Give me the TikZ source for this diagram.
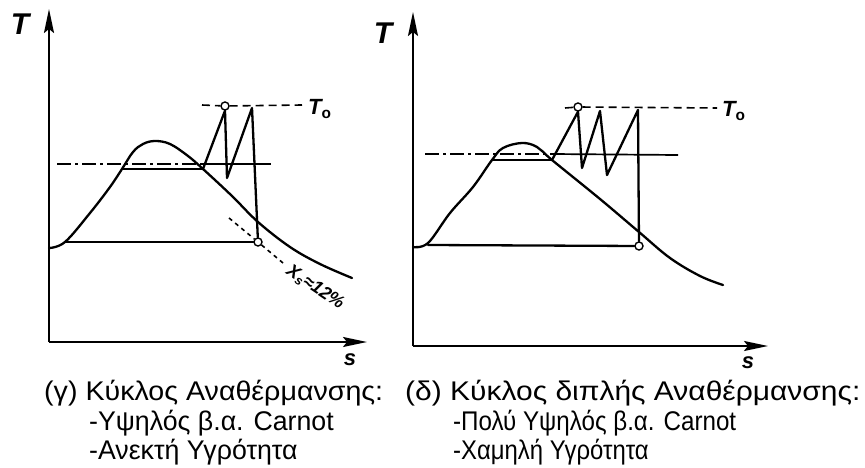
\documentclass[tikz,border=0pt]{standalone}
\usepackage{fontspec}
\setmainfont{Liberation Sans}
\usetikzlibrary{arrows.meta}
\begin{document}
\begin{tikzpicture}[x=1pt,y=-1pt,
  axis/.style={line width=2pt,-{Stealth[length=24pt,width=10pt,inset=4pt]}},
  curve/.style={line width=2.3pt, line join=round, line cap=round},
  thinline/.style={line width=1.7pt},
  dashdot/.style={line width=1.7pt, dash pattern=on 14pt off 4pt on 3pt off 4pt},
  dashT/.style={line width=1.6pt, dash pattern=on 8pt off 5pt},
  dotT/.style={line width=1.6pt, dash pattern=on 4pt off 4pt},
  pt/.style={circle, draw, fill=white, line width=1.4pt, inner sep=0pt, minimum size=8pt},
  captxt/.style={anchor=base west, inner sep=0pt, font=\fontsize{27}{31}\selectfont},
  lbl/.style={font=\fontsize{30}{30}\selectfont\bfseries\itshape, inner sep=0pt},
  slbl/.style={font=\fontsize{22}{22}\selectfont\bfseries\itshape, inner sep=0pt},
  tlbl/.style={font=\fontsize{22}{22}\selectfont\bfseries\itshape, inner sep=0pt},
]
\useasboundingbox (0,0) rectangle (865,468);

% ---------- left diagram ----------
\coordinate (o1) at (49,342);
\coordinate (ytop1) at (49,9);
\coordinate (xend1) at (367,342);
\draw[axis] (o1) -- (ytop1);
\draw[axis] (o1) -- (xend1);
\node[lbl] (T1) at (20,24) {T};
\node[slbl] (s1) at (350,360) {s};

\draw[curve] plot[smooth, tension=0.6] coordinates {(49,248) (65,242) (90,213) (110,187) (122,169) (133,152) (143,144) (155,141) (170,144) (188,156) (203,169) (232,196) (258,222) (290,247) (320,264) (352,278)};

\coordinate (L1) at (122,169);
\coordinate (R1) at (203,169);
\node[pt] (pc1) at (258,242) {};
\node[pt] (pt1) at (225,106) {};
\draw[dashT] (202,105) -- (pt1) -- (302,105) coordinate (t0e1);
\node[tlbl, anchor=west] (T01) at (308,109) {T$_{\mathbf{o}}$};

\draw[curve] (L1) -- (R1);
\draw[curve] (65,242) -- (pc1);
\draw[dashdot] (57,164) -- (203,164);
\draw[thinline] (203,164) -- (271,164);
\draw[curve] (R1) -- (pt1.south) -- (227,178) -- (252,108) -- (pc1);
\draw[dotT] (229,218) -- (pc1);
\draw[dotT] (pc1) -- (283,263) coordinate (xs0);
\node[font=\fontsize{18}{18}\selectfont\bfseries\itshape, inner sep=0pt, anchor=west, rotate=-34] (xs) at (288,269) {X\textsubscript{s}≈12\%};

% ---------- right diagram ----------
\coordinate (o2) at (413,346);
\coordinate (ytop2) at (413,12);
\coordinate (xend2) at (768,346);
\draw[axis] (o2) -- (ytop2);
\draw[axis] (o2) -- (xend2);
\node[lbl] (T2) at (383,33) {T};
\node[slbl] (s2) at (748,363) {s};

\draw[curve] plot[smooth, tension=0.6] coordinates {(413,247) (428,243) (450,213) (473,187) (492,160) (503,148) (522,143) (537,147) (552,160) (600,199) (639,232) (670,258) (700,276) (723,285)};

\coordinate (L2) at (492,160);
\coordinate (R2) at (552,160);
\node[pt] (pc2) at (639,246) {};
\node[pt] (pt2) at (578,107) {};
\draw[dashT] (565,108) -- (pt2) -- (717,108);
\node[tlbl, anchor=west] (T02) at (722,111) {T$_{\mathbf{o}}$};

\draw[curve] (L2) -- (R2);
\draw[curve] (428,245) -- (pc2);
\draw[dashdot] (425,154) -- (552,154);
\draw[thinline] (552,154) -- (678,155);
\draw[curve] (R2) -- (pt2.south) -- (582,168) -- (600,111) -- (607,175) -- (638,110) -- (pc2);

% ---------- captions ----------
\node[captxt, xscale=1.06] (c1a) at (44,400) {(γ) Κύκλος Αναθέρμανσης:};
\node[captxt, xscale=0.99] (c1b) at (89,430) {-Υψηλός β.α. Carnot};
\node[captxt, xscale=0.99] (c1c) at (89,459) {-Ανεκτή Υγρότητα};
\node[captxt, xscale=1.11] (c2a) at (405,400) {(δ) Κύκλος διπλής Αναθέρμανσης:};
\node[captxt, xscale=0.895] (c2b) at (453,430) {-Πολύ Υψηλός β.α. Carnot};
\node[captxt, xscale=0.885] (c2c) at (453,459) {-Χαμηλή Υγρότητα};
\end{tikzpicture}
\end{document}
